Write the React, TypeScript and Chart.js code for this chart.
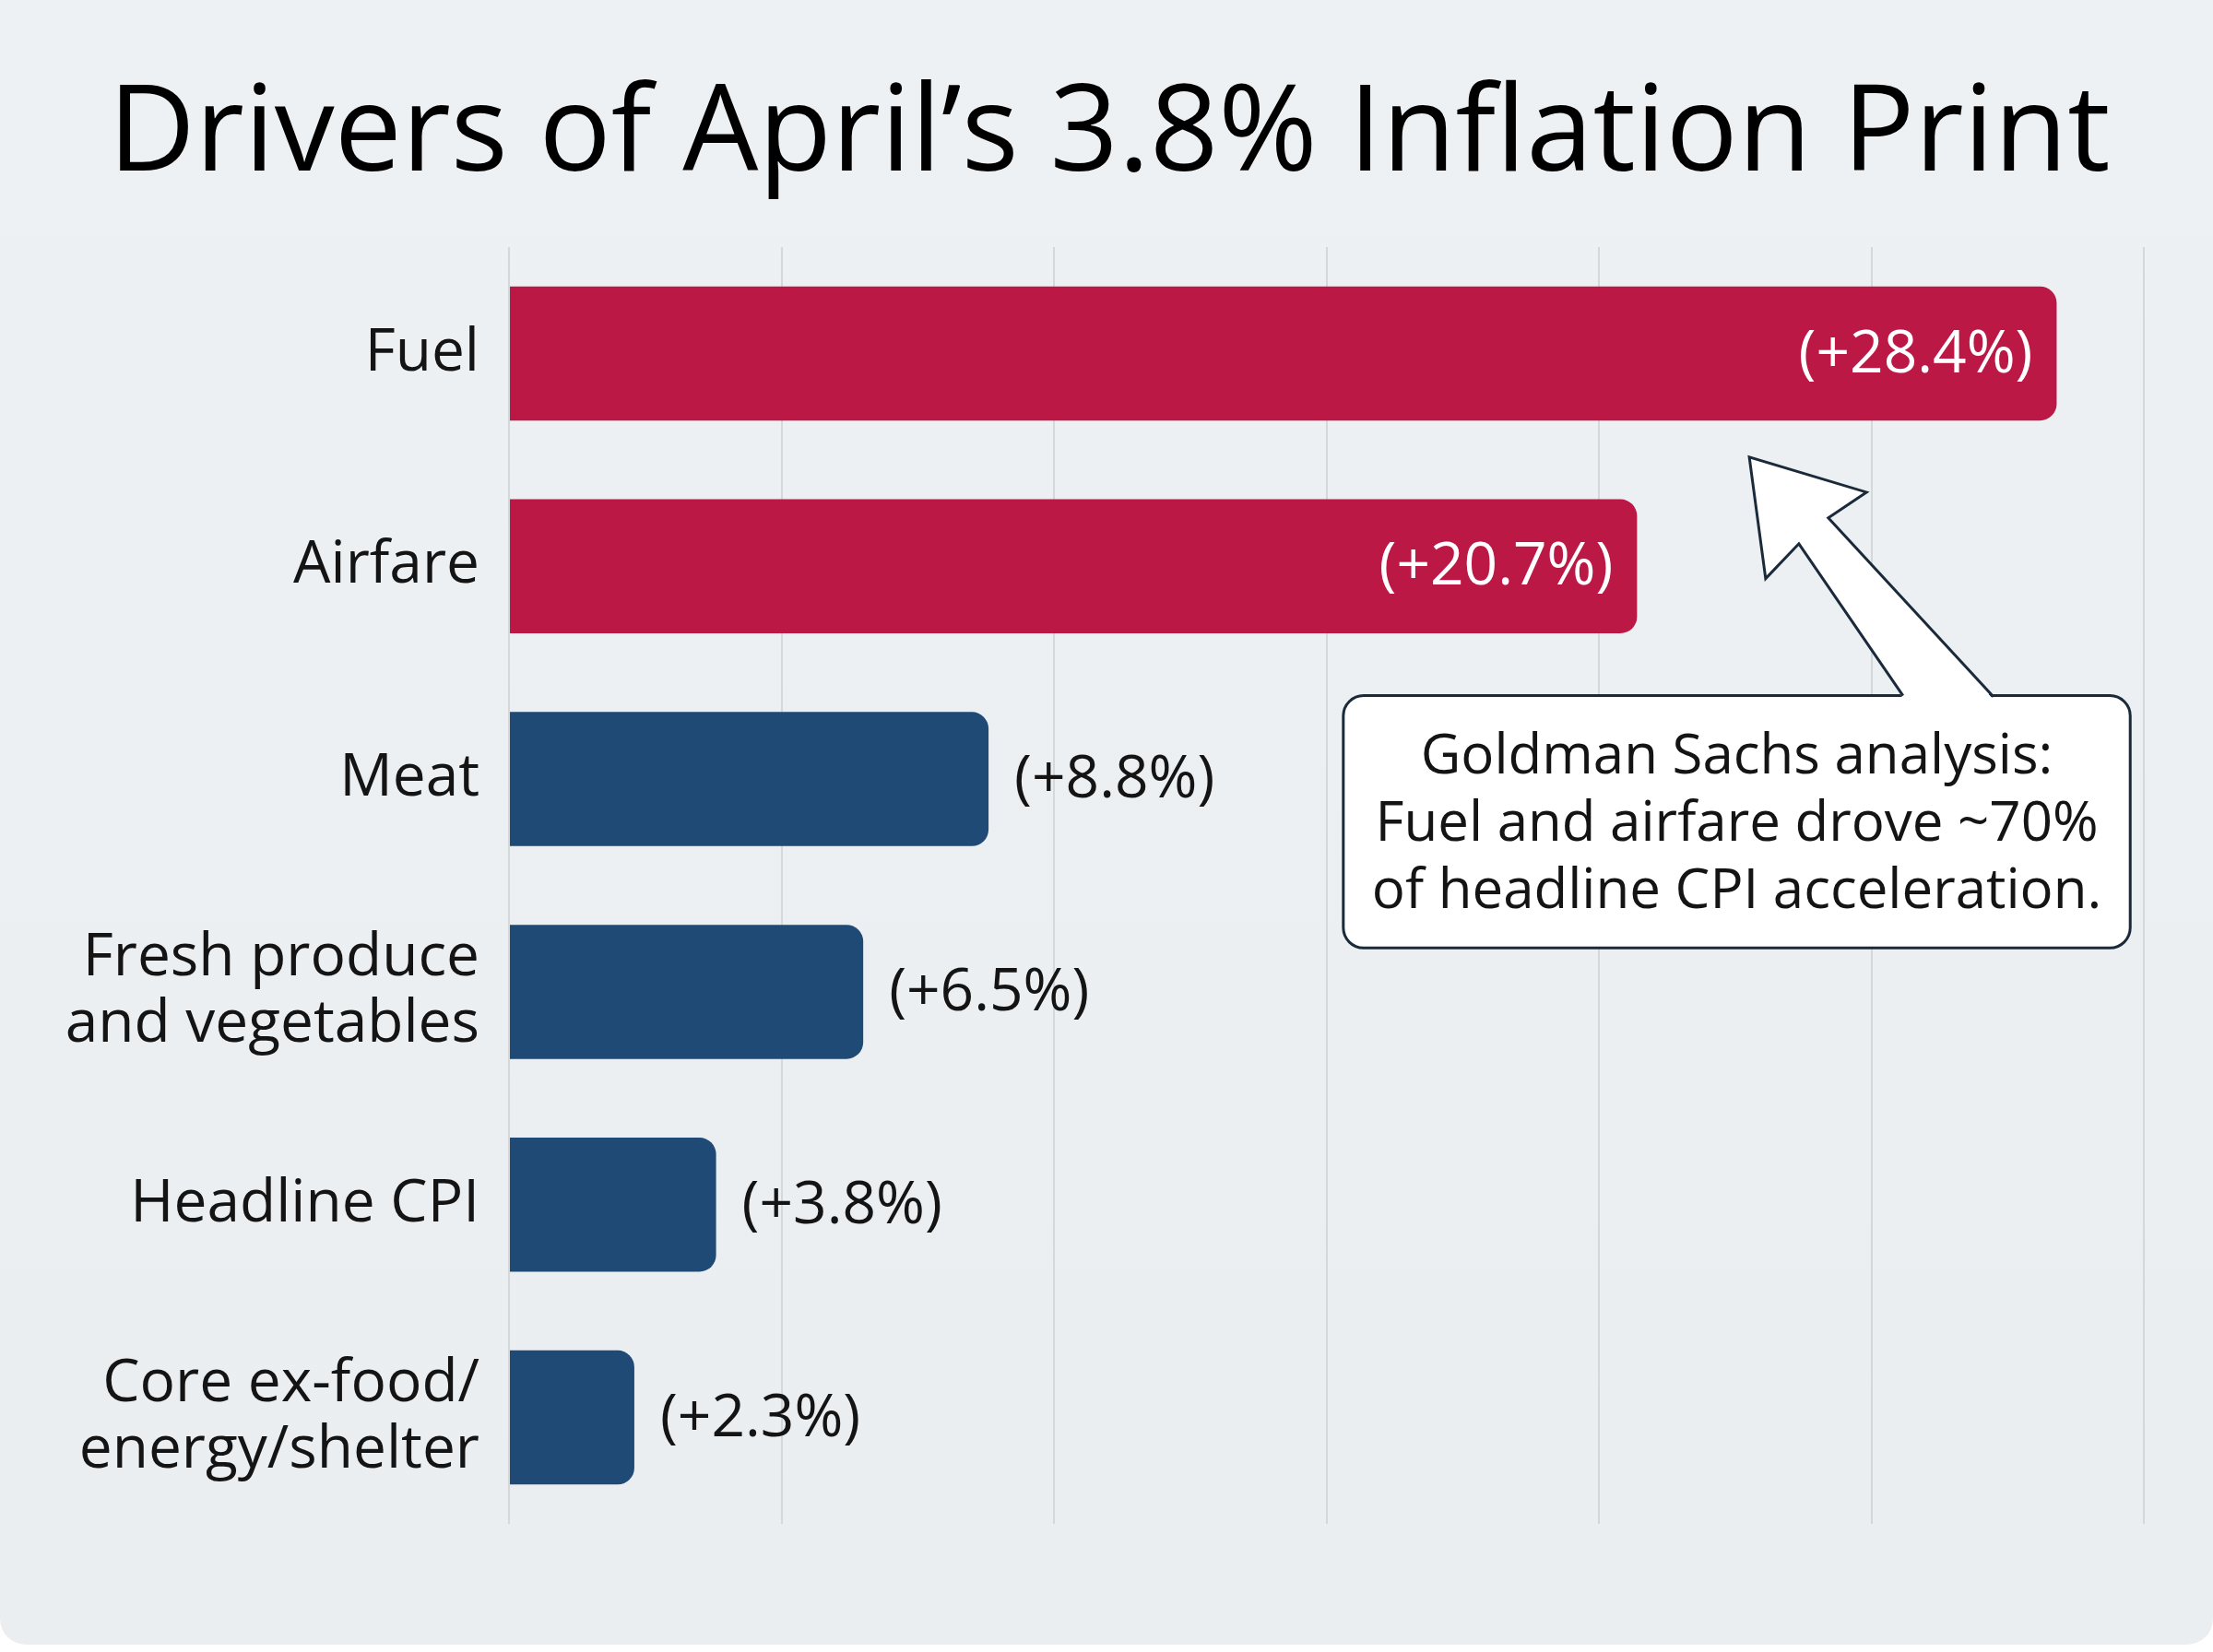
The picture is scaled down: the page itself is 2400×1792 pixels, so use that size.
import React, { useEffect, useRef } from "react";
import { Chart, registerables } from "chart.js";

Chart.register(...registerables);

const title = "Drivers of April’s 3.8% Inflation Print";
const categories: (string | string[])[] = [
  "Fuel",
  "Airfare",
  "Meat",
  ["Fresh produce", "and vegetables"],
  "Headline CPI",
  ["Core ex-food/", "energy/shelter"],
];
const values = [28.4, 20.7, 8.8, 6.5, 3.8, 2.3];
const valueLabels = ["(+28.4%)", "(+20.7%)", "(+8.8%)", "(+6.5%)", "(+3.8%)", "(+2.3%)"];
const labelInside = [true, true, false, false, false, false];
const RED = "#BC1845";
const NAVY = "#1F4A75";
const barColors = [RED, RED, NAVY, NAVY, NAVY, NAVY];
const xTicks = { min: 0, max: 30, step: 5 };
const noteLines = [
  "Goldman Sachs analysis:",
  "Fuel and airfare drove ~70%",
  "of headline CPI acceleration.",
];
// annotation geometry in axis units (x value, y category index)
const noteBox = { x0: 15.31, x1: 29.75, y0: 1.608, y1: 2.794 };
const arrowPts: [number, number][] = [
  [25.58, 1.608],
  [23.67, 0.894],
  [23.06, 1.058],
  [22.76, 0.487],
  [24.91, 0.652],
  [24.21, 0.773],
  [27.24, 1.613],
];

const FONT = "'Open Sans', 'Noto Sans', sans-serif";
const INK = "#141414";
const OUTLINE = "#1B2A3A";

export default function App() {
  const ref = useRef<HTMLCanvasElement | null>(null);

  useEffect(() => {
    document.body.style.margin = "0";
    const canvas = ref.current!;
    const bgPlugin = {
      id: "bg",
      beforeDraw(chart: any) {
        const ctx = chart.ctx;
        ctx.save();
        ctx.fillStyle = "#ffffff";
        ctx.fillRect(0, 0, chart.width, chart.height);
        const g = ctx.createLinearGradient(0, 0, 0, chart.height);
        g.addColorStop(0, "#EEF1F3");
        g.addColorStop(1, "#EBEEF1");
        ctx.fillStyle = g;
        ctx.beginPath();
        (ctx as any).roundRect(0, 0, chart.width, chart.height - 8, [0, 0, 28, 28]);
        ctx.fill();
        ctx.fillStyle = "#000";
        ctx.font = `130px ${FONT}`;
        ctx.textAlign = "center";
        ctx.textBaseline = "alphabetic";
        ctx.fillText(title, 1203, 185);
        ctx.restore();
      },
    };
    const labelPlugin = {
      id: "valueLabels",
      afterDatasetsDraw(chart: any) {
        const ctx = chart.ctx;
        const meta = chart.getDatasetMeta(0);
        ctx.save();
        ctx.font = `64px ${FONT}`;
        ctx.textBaseline = "middle";
        meta.data.forEach((bar: any, i: number) => {
          if (labelInside[i]) {
            ctx.fillStyle = "#ffffff";
            ctx.textAlign = "right";
            ctx.fillText(valueLabels[i], bar.x - 26, bar.y + 2);
          } else {
            ctx.fillStyle = INK;
            ctx.textAlign = "left";
            ctx.fillText(valueLabels[i], bar.x + 28, bar.y + 2);
          }
        });
        ctx.restore();
      },
    };
    const notePlugin = {
      id: "note",
      afterDraw(chart: any) {
        const ctx = chart.ctx;
        const xs = chart.scales.x;
        const ys = chart.scales.y;
        const px = (v: number) => xs.getPixelForValue(v);
        const py = (v: number) => ys.getPixelForValue(v);
        const bx0 = px(noteBox.x0), bx1 = px(noteBox.x1);
        const by0 = py(noteBox.y0), by1 = py(noteBox.y1);
        ctx.save();
        // box
        ctx.beginPath();
        (ctx as any).roundRect(bx0, by0, bx1 - bx0, by1 - by0, 22);
        ctx.fillStyle = "#ffffff";
        ctx.fill();
        ctx.lineWidth = 3;
        ctx.strokeStyle = OUTLINE;
        ctx.stroke();
        // arrow
        const pts = arrowPts.map(([a, b]) => [px(a), py(b)]);
        ctx.beginPath();
        ctx.moveTo(pts[0][0], pts[0][1] + 3);
        for (let i = 1; i < pts.length; i++) {
          const yy = i === pts.length - 1 ? pts[i][1] + 3 : pts[i][1];
          ctx.lineTo(pts[i][0], yy);
        }
        ctx.closePath();
        ctx.fillStyle = "#ffffff";
        ctx.fill();
        ctx.beginPath();
        ctx.moveTo(pts[0][0], pts[0][1]);
        for (let i = 1; i < pts.length; i++) ctx.lineTo(pts[i][0], pts[i][1]);
        ctx.lineJoin = "miter";
        ctx.stroke();
        // text
        ctx.fillStyle = INK;
        ctx.font = `60px ${FONT}`;
        ctx.textAlign = "center";
        ctx.textBaseline = "middle";
        const cx = (bx0 + bx1) / 2;
        const cy = (by0 + by1) / 2 + 3;
        const lh = 73;
        noteLines.forEach((t, i) => {
          ctx.fillText(t, cx, cy + (i - (noteLines.length - 1) / 2) * lh);
        });
        ctx.restore();
      },
    };

    const chart = new Chart(canvas, {
      type: "bar",
      data: {
        labels: categories,
        datasets: [
          {
            data: values,
            backgroundColor: barColors,
            borderRadius: 18,
            borderSkipped: "start",
            categoryPercentage: 1,
            barPercentage: 0.63,
          },
        ],
      },
      options: {
        indexAxis: "y",
        responsive: false,
        animation: false,
        devicePixelRatio: 1,
        layout: { padding: { top: 268, bottom: 139, left: 0, right: 75 } },
        plugins: {
          legend: { display: false },
          title: { display: false },
          tooltip: { enabled: false },
        },
        scales: {
          x: {
            min: xTicks.min,
            max: xTicks.max,
            ticks: { display: false, stepSize: xTicks.step },
            grid: { color: "#D3D8DC", lineWidth: 2, drawTicks: false },
            border: { display: false },
            afterFit(scale: any) {
              scale.height = 0;
            },
          },
          y: {
            ticks: {
              color: INK,
              font: { family: FONT, size: 64, lineHeight: 1.13 },
              padding: 24,
            },
            grid: { display: false },
            border: { display: false },
            afterFit(scale: any) {
              scale.width = 552;
            },
          },
        },
      },
      plugins: [bgPlugin, labelPlugin, notePlugin],
    });
    return () => chart.destroy();
  }, []);

  return (
    <div style={{ width: 2400, height: 1792 }}>
      <canvas ref={ref} width={2400} height={1792} style={{ width: 2400, height: 1792, display: "block" }} />
    </div>
  );
}
